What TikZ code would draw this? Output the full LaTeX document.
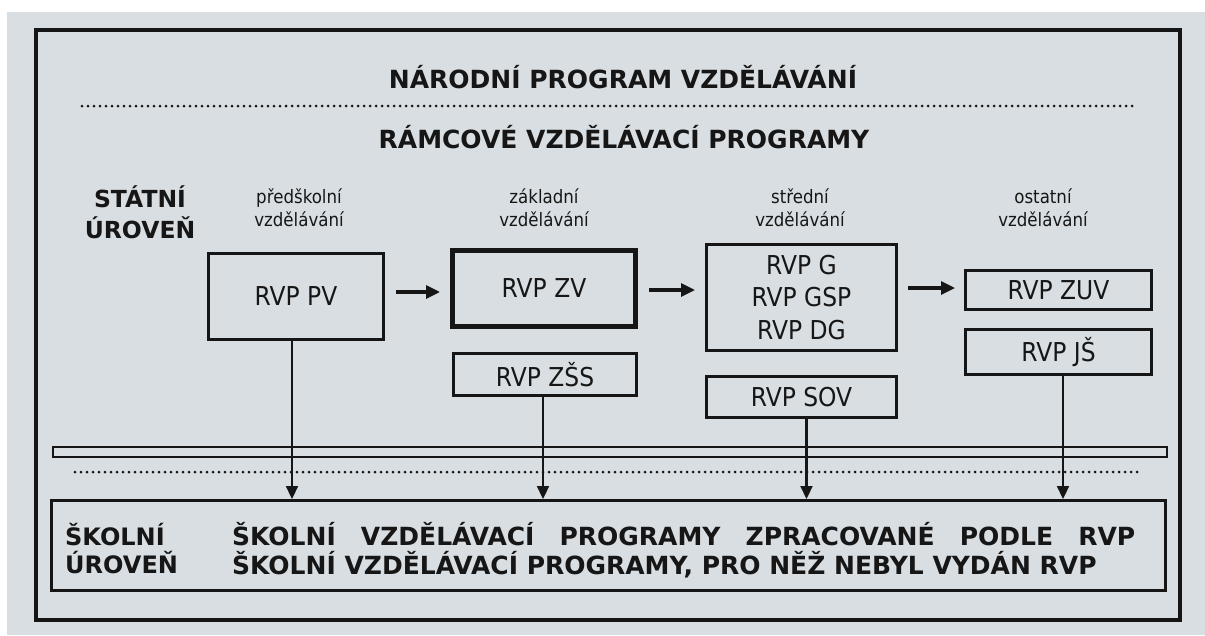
\documentclass[tikz,border=0pt]{standalone}
\usepackage{fontspec}
\setmainfont{DejaVu Sans}
\newfontfamily\condfont[FakeStretch=0.9]{DejaVu Sans}
\usetikzlibrary{arrows.meta}
\definecolor{paper}{RGB}{216,222,226}
\definecolor{ink}{RGB}{22,22,22}
\begin{document}
\begin{tikzpicture}[x=1pt,y=-1pt,
  every node/.style={text=ink},
  box/.style={draw=ink, line width=2.6pt, inner sep=0pt, align=center,
    font=\condfont\fontsize{26}{32.5}\selectfont},
  head/.style={font=\bfseries\fontsize{25}{30}\selectfont, anchor=base, inner sep=0pt},
  lab/.style={font=\condfont\fontsize{18.5}{22}\selectfont, anchor=base, inner sep=0pt},
  harr/.style={draw=ink, line width=3.2pt, -{Triangle[length=14pt,width=13pt]}},
  varr/.style={draw=ink, line width=2.2pt, -{Triangle[length=13pt,width=12pt]}},
  dots/.style={draw=ink, line width=3pt, line cap=round, dash pattern=on 0pt off 6pt},
]
\useasboundingbox (0,0) rectangle (1205,635);
\fill[white] (0,0) rectangle (1205,635);
\fill[paper] (7,12) rectangle (1205,635);

% outer frame
\draw[ink, line width=3.6pt] (36,30) rectangle (1180,620);

% headings
\node[head] (title) at (623,88) {NÁRODNÍ PROGRAM VZDĚLÁVÁNÍ};
\draw[dots] (82,106) -- (1132,106);
\node[head] (rvp) at (624,148) {RÁMCOVÉ VZDĚLÁVACÍ PROGRAMY};

\node[head, font=\bfseries\fontsize{23.5}{28}\selectfont] (st1) at (140,207) {STÁTNÍ};
\node[head, font=\bfseries\fontsize{23.5}{28}\selectfont] (st2) at (140,238) {ÚROVEŇ};

% column labels
\node[lab] (l1a) at (299,203) {předškolní};
\node[lab] (l1b) at (299,226) {vzdělávání};
\node[lab] (l2a) at (544,203) {základní};
\node[lab] (l2b) at (544,226) {vzdělávání};
\node[lab] (l3a) at (800,203) {střední};
\node[lab] (l3b) at (800,226) {vzdělávání};
\node[lab] (l4a) at (1043,203) {ostatní};
\node[lab] (l4b) at (1043,226) {vzdělávání};

% boxes
\node[box, minimum width=175.4pt, minimum height=86.4pt] (PV) at (296,296.5) {RVP PV};
\node[box, line width=5pt, minimum width=183pt, minimum height=76pt] (ZV) at (544,288.5) {RVP ZV};
\node[box, minimum width=183.4pt, minimum height=42.4pt] (ZSS) at (545,374.5) {RVP ZŠS};
\node[box, minimum width=190.4pt, minimum height=106.4pt] (G) at (801.5,297.5) {RVP G\\RVP GSP\\RVP DG};
\node[box, minimum width=190.4pt, minimum height=41.4pt] (SOV) at (801.5,397) {RVP SOV};
\node[box, line width=3.3pt, minimum width=185.7pt, minimum height=38.7pt] (ZUV) at (1058.5,290) {RVP ZUV};
\node[box, line width=3.3pt, minimum width=185.7pt, minimum height=44.7pt] (JS) at (1058.5,352) {RVP JŠ};

% separators
\draw[ink, line width=2.6pt] (53,447) rectangle (1167,457);
\draw[dots] (75,472) -- (1140,472);

% school level box
\node[draw=ink, line width=3pt, inner sep=0pt, minimum width=1114pt, minimum height=90pt] (bot) at (608.5,545.5) {};
\node[head, anchor=base west, font=\bfseries\fontsize{24}{28}\selectfont] (sk1) at (65,545) {ŠKOLNÍ};
\node[head, anchor=base west, font=\bfseries\fontsize{24}{28}\selectfont] (sk2) at (65,573) {ÚROVEŇ};
\node[head, anchor=base west] (t1) at (232,545) {\makebox[903pt][s]{ŠKOLNÍ VZDĚLÁVACÍ PROGRAMY ZPRACOVANÉ PODLE RVP}};
\node[head, anchor=base west] (t2) at (232,574) {ŠKOLNÍ VZDĚLÁVACÍ PROGRAMY, PRO NĚŽ NEBYL VYDÁN RVP};

% horizontal arrows
\coordinate (a1) at (0,292);
\coordinate (a2) at (0,290);
\coordinate (a3) at (0,288);
\draw[harr, shorten <=11pt, shorten >=10pt] (PV.east |- a1) -- (ZV.west |- a1);
\draw[harr, shorten <=11pt, shorten >=10pt] (ZV.east |- a2) -- (G.west |- a2);
\draw[harr, shorten <=10pt, shorten >=9pt] (G.east |- a3) -- (ZUV.west |- a3);

% vertical arrows
\draw[varr] ([xshift=-4pt]PV.south) -- ([xshift=-4pt]PV.south |- bot.north);
\draw[varr] ([xshift=-2pt]ZSS.south) -- ([xshift=-2pt]ZSS.south |- bot.north);
\draw[varr] ([xshift=5pt]SOV.south) -- ([xshift=5pt]SOV.south |- bot.north);
\draw[varr] ([xshift=4.5pt]JS.south) -- ([xshift=4.5pt]JS.south |- bot.north);
\end{tikzpicture}
\end{document}
